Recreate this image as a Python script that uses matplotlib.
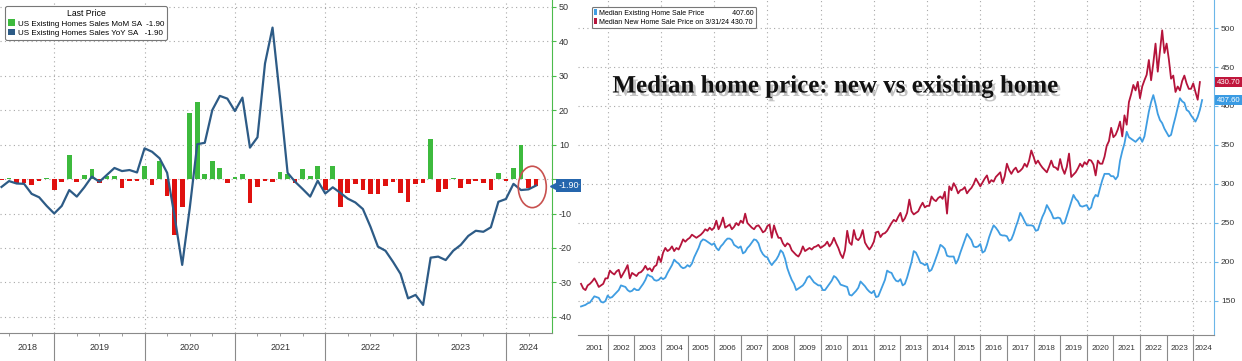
import numpy as np
import pandas as pd
import matplotlib
matplotlib.use("Agg")
import matplotlib.pyplot as plt
import matplotlib.patheffects as pe
import matplotlib.transforms as mtransforms
from matplotlib.patches import Patch, Ellipse

# left panel: US existing home sales, monthly, May 2018 - Apr 2024 (%)
sales_start = "2018-05"
sales_mom = [
    -0.4, 0.4, -1.1, -1.2, -1.8, -0.6, 0.4, -3.2,
    -0.8, 7.0, -1.0, 1.3, 2.9, -1.2, 0.9, 0.9, -2.7, -0.6, -0.6, 3.8,
    -1.6, 5.2, -5.0, -16.3, -8.1, 19.0, 22.4, 1.4, 5.2, 3.3, -1.1, 0.7,
    1.4, -6.9, -2.3, -0.6, -0.8, 1.9, 1.5, -1.1, 3.0, 0.9, 3.8, -3.2,
    3.8, -8.2, -4.2, -1.5, -3.1, -4.3, -4.3, -2.1, -0.9, -4.2, -6.6, -1.4,
    -1.2, 11.5, -3.7, -2.8, 0.3, -2.7, -1.4, -0.5, -1.1, -3.1, 1.6, -0.6,
    3.1, 9.8, -2.7, -1.9,
]
sales_yoy = [
    -2.3, -0.6, -1.3, -1.4, -4.3, -5.3, -7.8, -10.0,
    -7.8, -3.2, -5.1, -2.4, 0.7, -0.8, 1.2, 3.2, 2.3, 2.6, 1.9, 8.9,
    7.9, 6.0, 1.8, -11.0, -24.9, -8.5, 10.1, 10.5, 20.0, 24.1, 23.3, 19.7,
    23.6, 9.1, 12.1, 33.5, 43.9, 23.4, 1.8, -0.8, -2.9, -5.1, -0.5, -4.2,
    -2.4, -4.0, -5.7, -6.8, -8.7, -13.8, -19.6, -20.8, -24.0, -27.5, -34.6, -33.6,
    -36.5, -22.8, -22.5, -23.5, -20.8, -19.1, -16.5, -15.0, -15.3, -14.0, -6.6, -5.8,
    -1.4, -3.2, -3.0, -1.9,
]
sales_years = [2018, 2019, 2020, 2021, 2022, 2023, 2024]

# right panel: median sale price ($k), monthly from Dec 2000
price_start = "2000-12"
existing_price = [
    143,
    144, 145, 147, 148, 152, 156, 155, 154, 149, 148, 150, 157,
    154, 155, 158, 161, 164, 170, 169, 168, 164, 162, 163, 166,
    164, 164, 168, 172, 177, 184, 182, 181, 177, 176, 177, 180,
    178, 180, 186, 191, 196, 203, 200, 198, 194, 192, 193, 196,
    194, 198, 206, 212, 218, 226, 229, 228, 226, 224, 222, 224,
    218, 215, 220, 223, 227, 230, 230, 228, 222, 220, 218, 220,
    211, 213, 218, 221, 225, 229, 228, 224, 215, 210, 207, 206,
    200, 196, 200, 203, 208, 215, 212, 204, 192, 184, 177, 172,
    164, 166, 168, 170, 174, 180, 182, 178, 174, 172, 170, 170,
    164, 164, 168, 172, 176, 182, 180, 176, 171, 170, 169, 168,
    158, 157, 160, 163, 167, 175, 172, 169, 165, 162, 160, 163,
    155, 156, 163, 170, 177, 189, 187, 186, 180, 176, 175, 178,
    170, 172, 180, 190, 200, 214, 212, 206, 199, 198, 196, 198,
    188, 190, 197, 205, 213, 222, 220, 217, 208, 207, 207, 207,
    198, 203, 212, 220, 228, 236, 232, 228, 220, 219, 220, 223,
    212, 214, 222, 232, 240, 247, 244, 240, 235, 234, 234, 233,
    227, 229, 236, 245, 253, 263, 258, 252, 247, 247, 247, 246,
    240, 241, 250, 258, 264, 273, 268, 263, 256, 256, 257, 256,
    249, 250, 259, 268, 277, 286, 281, 278, 272, 271, 272, 273,
    267, 270, 281, 286, 284, 295, 305, 313, 313, 313, 310, 310,
    306, 310, 330, 342, 352, 367, 360, 358, 356, 354, 357, 360,
    354, 361, 377, 393, 405, 414, 403, 390, 382, 378, 371, 366,
    361, 363, 375, 386, 398, 410, 406, 404, 395, 393, 388, 384,
    380, 386, 395, 407.6,
]
new_price = [
    172,
    166, 164, 170, 172, 175, 179, 174, 168, 170, 172, 179, 179,
    189, 186, 184, 188, 190, 180, 185, 190, 196, 179, 186, 184,
    182, 186, 187, 190, 195, 190, 192, 188, 194, 196, 207, 200,
    212, 218, 214, 216, 220, 214, 218, 216, 222, 229, 226, 229,
    231, 235, 233, 231, 233, 235, 238, 242, 240, 244, 241, 244,
    253, 242, 248, 257, 244, 246, 248, 242, 245, 250, 247, 253,
    250, 262, 250, 247, 244, 242, 246, 247, 243, 238, 240, 246,
    248, 231, 247, 238, 231, 231, 224, 220, 224, 222, 215, 212,
    209, 207, 212, 220, 214, 216, 218, 216, 219, 220, 222, 218,
    220, 222, 226, 220, 224, 231, 224, 218, 210, 205, 215, 240,
    225, 222, 241, 230, 228, 232, 241, 225, 220, 216, 220, 226,
    238, 239, 232, 236, 237, 240, 245, 250, 254, 252, 258, 263,
    252, 256, 263, 280, 265, 261, 263, 265, 271, 276, 270, 272,
    272, 284, 280, 278, 282, 284, 281, 290, 262, 297, 292, 301,
    296, 288, 292, 293, 296, 288, 292, 295, 300, 307, 302, 297,
    302, 307, 311, 301, 305, 303, 309, 312, 315, 301, 310, 326,
    318, 313, 318, 321, 315, 317, 320, 326, 322, 330, 343, 335,
    326, 330, 325, 321, 318, 315, 322, 330, 322, 321, 318, 332,
    320, 313, 322, 339, 309, 312, 315, 320, 326, 322, 328, 325,
    331, 330, 325, 311, 330, 326, 326, 335, 349, 355, 372, 360,
    363, 370, 380, 361, 388, 376, 405, 415, 427, 420, 431, 410,
    425, 433, 440, 459, 433, 455, 480, 444, 470, 497, 468, 480,
    460, 435, 439, 418, 425, 420, 432, 439, 429, 422, 422, 429,
    418, 408, 430.7,
]
price_years = list(range(2001, 2025))


def month_end_years(start, n):
    # monthly points sit at the end of their month, as decimal years
    p = pd.period_range(start, periods=n, freq="M")
    return np.asarray(p.year + p.month / 12.0, dtype=float)


GREEN = "#3dba3d"
RED_BAR = "#e0110f"
NAVY = "#2d5b86"
LBLUE = "#3f9de2"
CRIMSON = "#b5143b"
GRID = dict(color="#a8a8a8", linestyle=(0, (1, 3)), linewidth=0.8)
TICKFONT = "Liberation Sans"

fig = plt.figure(figsize=(12.42, 3.61), dpi=100)

# ---------------- left panel ----------------
ax = fig.add_axes([0, 28.5 / 361, 552 / 1242, 332.5 / 361])
xs = month_end_years(sales_start, len(sales_mom))
mom = np.array(sales_mom)
ax.bar(xs, mom, width=0.052, color=np.where(mom >= 0, GREEN, RED_BAR), zorder=2)
ax.plot(xs, sales_yoy, color=NAVY, lw=1.6, zorder=3)
ax.set_xlim(2018.40, 2024.51)
ax.set_ylim(-44.5, 51.9)

for s in ["top", "left"]:
    ax.spines[s].set_visible(False)
ax.spines["right"].set_color("#4cbb4c")
ax.spines["bottom"].set_color("#8a8a8a")
ax.yaxis.tick_right()
yt = np.arange(-40, 51, 10)
ax.set_yticks(yt)
ax.set_yticklabels(["" if v == 0 else str(v) for v in yt], fontsize=6.5,
                   family=TICKFONT, color="#333333")
ax.tick_params(axis="y", length=3, color="#4cbb4c", pad=2)
ax.set_xticks(sales_years[1:])
ax.set_xticklabels([])
ax.set_xticks(np.arange(2018.5, 2024.5, 0.25), minor=True)
ax.tick_params(axis="x", which="major", length=21, color="#8a8a8a", width=0.8)
ax.tick_params(axis="x", which="minor", length=2.5, color="#8a8a8a")
ax.grid(True, which="major", **GRID)
ax.set_axisbelow(True)

tr = mtransforms.blended_transform_factory(ax.transData, ax.transAxes)
x0, x1 = ax.get_xlim()
for yr in sales_years:
    c = (max(yr, x0) + min(yr + 1, x1)) / 2
    ax.text(c, -0.045, str(yr), transform=tr, ha="center", va="center",
            fontsize=6.5, family=TICKFONT, color="#333333")

leg = ax.legend(
    handles=[Patch(fc=GREEN), Patch(fc=NAVY)],
    labels=[f"US Existing Homes Sales MoM SA  {sales_mom[-1]:.2f}",
            f"US Existing Homes Sales YoY SA   {sales_yoy[-1]:.2f}"],
    title="Last Price", loc="upper left", bbox_to_anchor=(0.002, 0.993),
    prop=dict(family=TICKFONT, size=5.8), title_fontproperties=dict(family=TICKFONT, size=6.2),
    handlelength=0.9, handleheight=0.9, handletextpad=0.3, borderpad=0.35,
    labelspacing=0.15, framealpha=1, edgecolor="#777777", fancybox=True,
)
leg.get_frame().set_linewidth(0.8)

trr = mtransforms.blended_transform_factory(ax.transAxes, ax.transData)
ax.text(1.012, sales_mom[-1], f"{sales_mom[-1]:.2f}", transform=trr,
        ha="left", va="center", fontsize=6.5, family=TICKFONT, color="white",
        bbox=dict(boxstyle="square,pad=0.25", fc="#2566ad", ec="none"),
        clip_on=False, zorder=10)
ax.plot([1.004], [sales_mom[-1]], marker="<", ms=6, color="#2566ad",
        transform=trr, clip_on=False, zorder=10)

ax.add_patch(Ellipse(((xs[-2] + xs[-1]) / 2, (mom[-2] + mom[-1]) / 2),
                     width=0.31, height=12, fill=False, ec="#c8514f", lw=1.2, zorder=4))

# ---------------- right panel ----------------
ax2 = fig.add_axes([578 / 1242, 26 / 361, 636 / 1242, 335 / 361])
ax2.set_facecolor("none")
xe = month_end_years(price_start, len(existing_price))
xn = month_end_years(price_start, len(new_price))
ax2.plot(xe, existing_price, color=LBLUE, lw=1.3, zorder=3)
ax2.plot(xn, new_price, color=CRIMSON, lw=1.3, zorder=3)
ax2.set_xlim(2000.886, 2024.78)
ax2.set_ylim(106.4, 535.9)

for s in ["top", "left"]:
    ax2.spines[s].set_visible(False)
ax2.spines["right"].set_color("#6bb6e8")
ax2.spines["bottom"].set_color("#8a8a8a")
ax2.yaxis.tick_right()
ax2.set_yticks(np.arange(150, 501, 50))
ax2.tick_params(axis="y", length=3, color="#6bb6e8", labelsize=6, pad=2,
                labelcolor="#333333")
for t in ax2.get_yticklabels():
    t.set_family(TICKFONT)
ax2.set_xticks([y for y in price_years[1:] if y % 2 == 0])
ax2.set_xticks([y for y in price_years[1:] if y % 2 == 1], minor=True)
ax2.set_xticklabels([])
ax2.tick_params(axis="x", which="both", length=19, color="#8a8a8a", width=0.8)
ax2.grid(True, which="major", axis="x", **GRID)
ax2.grid(True, which="major", axis="y", **GRID)
ax2.set_axisbelow(True)

tr2 = mtransforms.blended_transform_factory(ax2.transData, ax2.transAxes)
x0, x1 = ax2.get_xlim()
for yr in price_years:
    c = (max(yr, x0) + min(yr + 1, x1)) / 2
    ax2.text(c, -0.04, str(yr), transform=tr2, ha="center", va="center",
             fontsize=5.8, family=TICKFONT, color="#333333")

leg2 = ax2.legend(
    handles=[Patch(fc=LBLUE), Patch(fc=CRIMSON)],
    labels=[f"Median Existing Home Sale Price              {existing_price[-1]:.2f}",
            f"Median New Home Sale Price on 3/31/24 {new_price[-1]:.2f}"],
    loc="upper left", bbox_to_anchor=(0.016, 0.99),
    prop=dict(family=TICKFONT, size=5.0), handlelength=0.4, handleheight=0.9,
    handletextpad=0.3, borderpad=0.35, labelspacing=0.25, framealpha=1,
    edgecolor="#777777", fancybox=True,
)
leg2.get_frame().set_linewidth(0.8)

trr2 = mtransforms.blended_transform_factory(ax2.transAxes, ax2.transData)
for val, col in [(new_price[-1], "#c0163c"), (existing_price[-1], "#3a9be3")]:
    ax2.text(1.004, val, f"{val:.2f}", transform=trr2, ha="left", va="center",
             fontsize=5.6, family=TICKFONT, color="white", clip_on=False,
             bbox=dict(boxstyle="square,pad=0.2", fc=col, ec="none"))

fig.text(835 / 1242, 1 - 86 / 361, "Median home price: new vs existing home",
         ha="center", va="center", fontsize=18, fontweight="bold",
         family="Liberation Serif", color="#111111",
         path_effects=[pe.SimplePatchShadow(offset=(2, -2.5), shadow_rgbFace="#888888", alpha=0.5),
                       pe.Normal()])

fig.savefig("out.png", dpi=100)
